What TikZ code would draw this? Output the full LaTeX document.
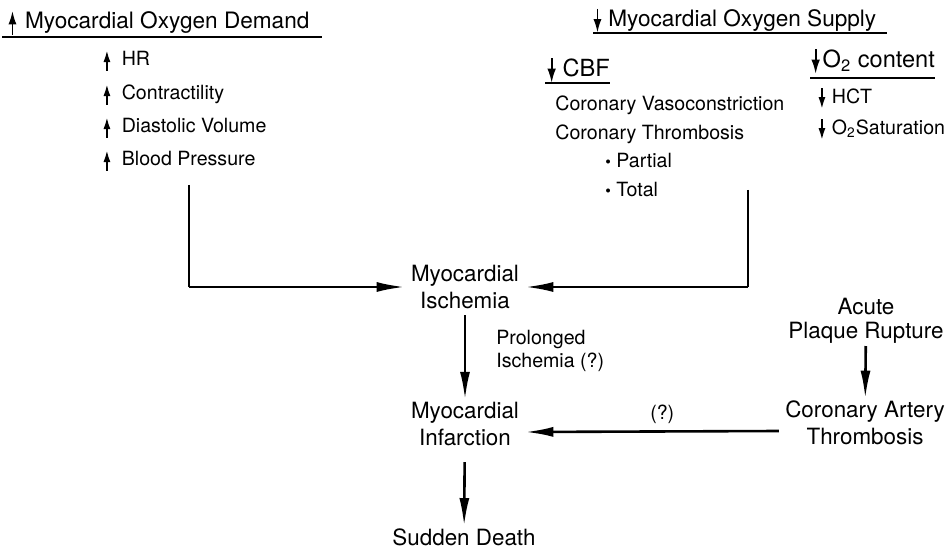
\documentclass[tikz,border=0pt]{standalone}
\usepackage{fontspec}
\setmainfont{TeX Gyre Heros}
\usetikzlibrary{arrows.meta,positioning}
\newcommand{\incr}[1][.3em]{\tikz[baseline=0pt]\draw[line width=.9pt,-{Latex[length=.6em,width=.36em]}] (0,-.25em) -- (0,.8em);\hspace{#1}}
\newcommand{\decr}[1][.3em]{\tikz[baseline=0pt]\draw[line width=.9pt,-{Latex[length=.6em,width=.36em]}] (0,.8em) -- (0,-.25em);\hspace{#1}}
\begin{document}
\begin{tikzpicture}[x=0.5pt, y=-0.5pt,
  head/.style = {font=\fontsize{11.3}{13.5}\selectfont, inner sep=0pt, anchor=base west},
  subhead/.style = {font=\fontsize{11.8}{14}\selectfont, inner sep=0pt, anchor=base west},
  item/.style = {font=\fontsize{9.8}{11.5}\selectfont, inner sep=0pt, anchor=base west},
  box/.style = {font=\fontsize{11.2}{13.5}\selectfont, align=center, inner xsep=3pt, inner ysep=1pt},
  note/.style = {font=\fontsize{9.8}{11.5}\selectfont, align=left, inner sep=0pt},
  rule/.style = {line width=.8pt},
  flow/.style = {line width=1.3pt, -{Latex[length=14pt,width=5pt]}}]
\useasboundingbox (0,0) rectangle (952,550);
\node[head] (dem) at (8,29) {\incr[.38em]Myocardial Oxygen Demand};
\draw[rule] (2,37) -- (322,37);
\node[item] (hr) at (103,66) {\incr[.58em]HR};
\node[item] (ctr) at (103,100) {\incr[.58em]Contractility};
\node[item] (dv) at (103,133) {\incr[.58em]Diastolic Volume};
\node[item] (bp) at (103,166) {\incr[.58em]Blood Pressure};
\node[head] (sup) at (593,27) {\decr[.3em]Myocardial Oxygen Supply};
\draw[rule] (593,33) -- (887,33);
\node[subhead] (cbf) at (547,77) {\decr[.28em]CBF};
\draw[rule] (545,83) -- (610,83);
\node[item] (vaso) at (555,111) {Coronary Vasoconstriction};
\node[item] (thr) at (555,140) {Coronary Thrombosis};
\node[item] (part) at (605,168) {{\footnotesize\textbullet} Partial};
\node[item] (tot) at (605,197) {{\footnotesize\textbullet} Total};
\node[subhead] (o2c) at (811,68) {\decr[.12em]O\textsubscript{2} content};
\draw[rule] (810,78) -- (935,78);
\node[item] (hct) at (818,104) {\decr[.33em]HCT};
\node[item] (sat) at (818,135) {\decr[.33em]O\textsubscript{2}Saturation};
\coordinate (demfoot) at (189,185);
\coordinate (supfoot) at (748,190);
\node[box] (isch) at (465,287) {Myocardial\\Ischemia};
\node[box] (inf) at (465,424) {Myocardial\\Infarction};
\node[box] (sd) at (464,537) {Sudden Death};
\node[box, font=\fontsize{11.2}{12}\selectfont] (acute) at (866,321) {Acute\\Plaque Rupture};
\node[box] (cat) at (865,423) {Coronary Artery\\Thrombosis};
\draw[line width=1.3pt] (demfoot) -- (demfoot |- isch);
\draw[flow] (demfoot |- isch) -- (isch);
\draw[line width=1.3pt] (supfoot) -- (supfoot |- isch);
\draw[flow] (supfoot |- isch) -- (isch);
\draw[flow, shorten <=2pt] (isch) -- node[note, right=15pt, pos=.45] {Prolonged\\Ischemia (?)} (inf);
\draw[flow] ([yshift=-4pt]cat.west) -- node[note, above=3.5pt, pos=.46] {(?)} ([yshift=-4pt]inf.east);
\draw[flow, shorten <=7pt] (inf) -- (sd);
\draw[flow] (acute) -- (cat);
\end{tikzpicture}
\end{document}
